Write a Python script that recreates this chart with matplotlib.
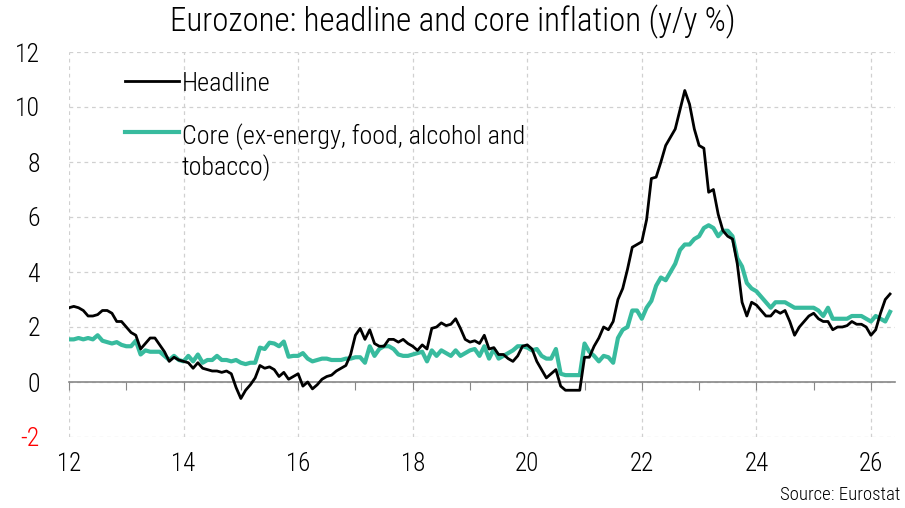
import numpy as np
import matplotlib
matplotlib.use("Agg")
import matplotlib.pyplot as plt
from matplotlib.transforms import blended_transform_factory
from matplotlib import font_manager

# monthly y/y %, Jan 2012 .. May 2026
headline = [
    2.7, 2.75, 2.7, 2.6, 2.4, 2.4, 2.45, 2.6, 2.6, 2.5, 2.2, 2.2,      # 2012
    2.0, 1.8, 1.7, 1.2, 1.4, 1.6, 1.6, 1.35, 1.1, 0.75, 0.9, 0.8,     # 2013
    0.75, 0.7, 0.5, 0.7, 0.5, 0.45, 0.4, 0.4, 0.35, 0.4, 0.3, -0.2,   # 2014
    -0.6, -0.3, -0.1, 0.15, 0.6, 0.5, 0.55, 0.45, 0.2, 0.35, 0.1, 0.2,  # 2015
    0.3, -0.15, 0.0, -0.25, -0.1, 0.1, 0.2, 0.25, 0.4, 0.5, 0.6, 1.0,   # 2016
    1.7, 1.95, 1.55, 1.9, 1.4, 1.3, 1.3, 1.55, 1.55, 1.45, 1.55, 1.4,   # 2017
    1.3, 1.15, 1.35, 1.2, 1.95, 2.0, 2.15, 2.05, 2.1, 2.3, 1.95, 1.55,  # 2018
    1.45, 1.5, 1.4, 1.7, 1.2, 1.25, 1.0, 1.0, 0.85, 0.75, 0.95, 1.3,    # 2019
    1.35, 1.2, 0.75, 0.45, 0.15, 0.3, 0.45, -0.15, -0.3, -0.3, -0.3, -0.3,  # 2020
    0.9, 0.9, 1.3, 1.6, 2.0, 1.9, 2.2, 3.0, 3.4, 4.1, 4.9, 5.0,       # 2021
    5.1, 5.9, 7.4, 7.45, 8.0, 8.6, 8.9, 9.2, 9.9, 10.6, 10.1, 9.2,    # 2022
    8.6, 8.5, 6.9, 7.0, 6.1, 5.5, 5.3, 5.2, 4.3, 2.9, 2.4, 2.9,       # 2023
    2.8, 2.6, 2.4, 2.4, 2.6, 2.5, 2.6, 2.2, 1.7, 2.0, 2.2, 2.4,       # 2024
    2.5, 2.3, 2.2, 2.2, 1.9, 2.0, 2.0, 2.05, 2.2, 2.1, 2.1, 2.0,      # 2025
    1.7, 1.9, 2.5, 3.0, 3.2,                                          # 2026
]
core = [
    1.55, 1.55, 1.6, 1.55, 1.6, 1.55, 1.7, 1.5, 1.45, 1.4, 1.45, 1.35,  # 2012
    1.3, 1.3, 1.5, 1.0, 1.15, 1.1, 1.1, 1.1, 0.95, 0.8, 0.95, 0.8,     # 2013
    0.75, 0.95, 0.75, 1.0, 0.7, 0.8, 0.8, 0.95, 0.8, 0.8, 0.75, 0.8,   # 2014
    0.7, 0.65, 0.7, 0.7, 1.25, 1.2, 1.43, 1.4, 1.3, 1.47, 0.92, 0.95,  # 2015
    0.95, 1.05, 0.85, 0.75, 0.8, 0.85, 0.85, 0.8, 0.8, 0.8, 0.85, 0.85,  # 2016
    0.9, 0.9, 0.7, 1.3, 0.95, 1.2, 1.3, 1.3, 1.2, 1.0, 0.95, 0.95,     # 2017
    1.0, 1.05, 1.1, 0.75, 1.15, 0.95, 1.15, 1.05, 0.95, 1.15, 0.95, 1.05,  # 2018
    1.15, 1.2, 0.95, 1.3, 0.85, 1.2, 0.85, 0.95, 1.05, 1.15, 1.3, 1.3,  # 2019
    1.25, 1.15, 1.2, 0.95, 0.85, 0.85, 1.2, 0.3, 0.25, 0.25, 0.25, 0.25,  # 2020
    1.4, 1.1, 0.95, 0.75, 0.95, 0.9, 0.7, 1.6, 1.9, 2.0, 2.6, 2.6,     # 2021
    2.3, 2.7, 2.95, 3.5, 3.8, 3.7, 4.0, 4.3, 4.8, 5.0, 5.0, 5.2,       # 2022
    5.3, 5.6, 5.7, 5.6, 5.3, 5.5, 5.5, 5.3, 4.5, 4.2, 3.6, 3.4,        # 2023
    3.3, 3.1, 2.9, 2.7, 2.9, 2.9, 2.9, 2.8, 2.7, 2.7, 2.7, 2.7,        # 2024
    2.7, 2.6, 2.4, 2.7, 2.3, 2.3, 2.3, 2.3, 2.4, 2.4, 2.4, 2.3,        # 2025
    2.2, 2.4, 2.3, 2.2, 2.55,                                          # 2026
]
months = 2012 + np.arange(len(headline)) / 12.0

yticks = [-2, 0, 2, 4, 6, 8, 10, 12]
xlabel_years = [2012, 2014, 2016, 2018, 2020, 2022, 2024, 2026]

names = {f.name for f in font_manager.fontManager.ttflist}
family = 'Roboto'
for cand in ['Roboto Condensed', 'Liberation Sans Narrow', 'Open Sans Condensed',
             'PT Sans Narrow', 'Archivo Narrow']:
    if cand in names:
        family = cand
        break
plt.rcParams['font.family'] = [family, 'DejaVu Sans']
plt.rcParams['font.weight'] = 'light'

fig = plt.figure(figsize=(9.05, 5.08), dpi=100)
ax = fig.add_axes([69 / 905, 71 / 508, 826 / 905, 385 / 508])

ax.plot(months, headline, color='black', lw=2.0, label='Headline', zorder=3)
ax.plot(months, core, color='#38bb9e', lw=3.0,
        label='Core (ex-energy, food, alcohol and\ntobacco)', zorder=2)

ax.set_xlim(2012, 2026.42)
ax.set_ylim(-2, 12)

for y in yticks:
    ax.axhline(y, color='#d0d0d0', lw=0.9, ls=(0, (3, 3)), zorder=0)
for x in xlabel_years:
    ax.axvline(x, color='#d0d0d0', lw=0.9, ls=(0, (3, 3)), zorder=0)

for s in ['top', 'right', 'left']:
    ax.spines[s].set_visible(False)
ax.spines['bottom'].set_position(('data', 0))
ax.spines['bottom'].set_color('#888888')
ax.spines['bottom'].set_linewidth(1.2)
ax.set_xticks(np.arange(2012, 2027))
ax.tick_params(axis='x', direction='out', length=6, color='#888888',
               labelbottom=False)

ax.set_yticks(yticks)
ax.set_yticklabels([str(v) for v in yticks], fontsize=18.5)
ax.tick_params(axis='y', length=0, pad=21)
for lbl in ax.get_yticklabels():
    lbl.set_horizontalalignment('right')
    if lbl.get_text().startswith('-'):
        lbl.set_color('red')

trans = blended_transform_factory(ax.transData, ax.transAxes)
for yr in xlabel_years:
    ax.text(yr, -0.07, str(yr)[2:], transform=trans, ha='center', va='center',
            fontsize=18)

fig.text(0.5, 0.957, 'Eurozone: headline and core inflation (y/y %)',
         ha='center', va='center', fontsize=23.8)
fig.text(0.995, 0.025, 'Source: Eurostat', ha='right', va='center', fontsize=13.5)

leg = ax.legend(loc='upper left', bbox_to_anchor=(0.068, 0.949), frameon=False,
                fontsize=18.8, handlelength=2.05, handletextpad=0.12,
                labelspacing=1.05, borderaxespad=0, borderpad=0)
# keep the legend line level with the first line of a wrapped label
try:
    for col in leg._legend_handle_box.get_children():
        for row in col.get_children():
            row.align = 'top'
except AttributeError:
    pass

fig.savefig('out.png', dpi=100)
